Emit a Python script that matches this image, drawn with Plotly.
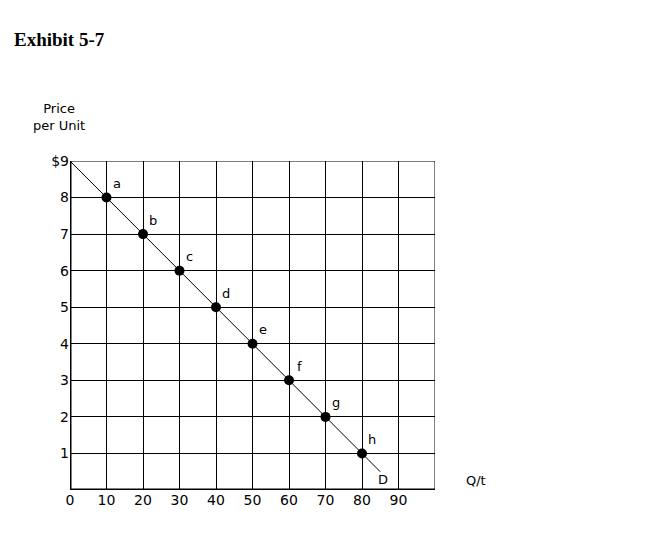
import plotly.graph_objects as go

qty = [10, 20, 30, 40, 50, 60, 70, 80]
price = [8, 7, 6, 5, 4, 3, 2, 1]
labels = ["a", "b", "c", "d", "e", "f", "g", "h"]
line_q = [0, 85]
line_p = [9, 0.5]
xticks = [0, 10, 20, 30, 40, 50, 60, 70, 80, 90]
yticks = [1, 2, 3, 4, 5, 6, 7, 8, 9]
ytext = ["1", "2", "3", "4", "5", "6", "7", "8", "$9"]

fig = go.Figure()
fig.add_trace(go.Scatter(x=line_q, y=line_p, mode="lines",
                         line=dict(color="black", width=1), hoverinfo="skip"))
fig.add_trace(go.Scatter(x=qty, y=price, mode="markers",
                         marker=dict(color="black", size=10)))
for q, p, t in zip(qty, price, labels):
    fig.add_annotation(x=q, y=p, text=t, showarrow=False, xshift=10, yshift=14,
                       font=dict(size=13, family="DejaVu Sans", color="black"))
fig.add_annotation(x=line_q[1] - 1, y=0.3, text="D", showarrow=False, xshift=6,
                   font=dict(size=13, family="DejaVu Sans", color="black"))

fig.add_annotation(xref="paper", yref="paper", x=1.08, y=0, text="Q/t",
                   showarrow=False, xanchor="left",
                   font=dict(size=13, family="DejaVu Sans", color="black"))
fig.add_annotation(xref="paper", yref="paper", x=-0.03, y=1.08, text="Price<br>per Unit",
                   showarrow=False, xanchor="center", yanchor="bottom",
                   font=dict(size=13, family="DejaVu Sans", color="black"))
fig.add_annotation(xref="paper", yref="paper", x=-0.16, y=1.33, text="<b>Exhibit 5-7</b>",
                   showarrow=False, xanchor="left", yanchor="bottom",
                   font=dict(size=19, family="Liberation Serif", color="black"))

fig.add_shape(type="line", xref="x", yref="y", x0=0, x1=100, y0=9, y1=9, line=dict(color="black", width=1))
fig.add_shape(type="line", xref="x", yref="y", x0=100, x1=100, y0=0, y1=9, line=dict(color="black", width=1))
fig.add_shape(type="line", xref="x", yref="y", x0=0, x1=100, y0=0, y1=0, line=dict(color="black", width=3))
fig.add_shape(type="line", xref="x", yref="y", x0=0, x1=0, y0=0, y1=9, line=dict(color="black", width=3))

fig.update_xaxes(range=[0, 100], tickvals=xticks, showgrid=True, gridcolor="black", gridwidth=1,
                 zeroline=False, showline=False, ticks="", tickfont=dict(size=14, family="DejaVu Sans", color="black"))
fig.update_yaxes(range=[0, 9], tickvals=yticks, ticktext=ytext, showgrid=True, gridcolor="black", gridwidth=1,
                 zeroline=False, showline=False, ticks="", ticklen=0,
                 tickfont=dict(size=14, family="DejaVu Sans", color="black"))
fig.update_layout(width=650, height=546, showlegend=False,
                  paper_bgcolor="white", plot_bgcolor="white",
                  margin=dict(l=62, r=223, t=153, b=64))
fig.write_html("out.html")
